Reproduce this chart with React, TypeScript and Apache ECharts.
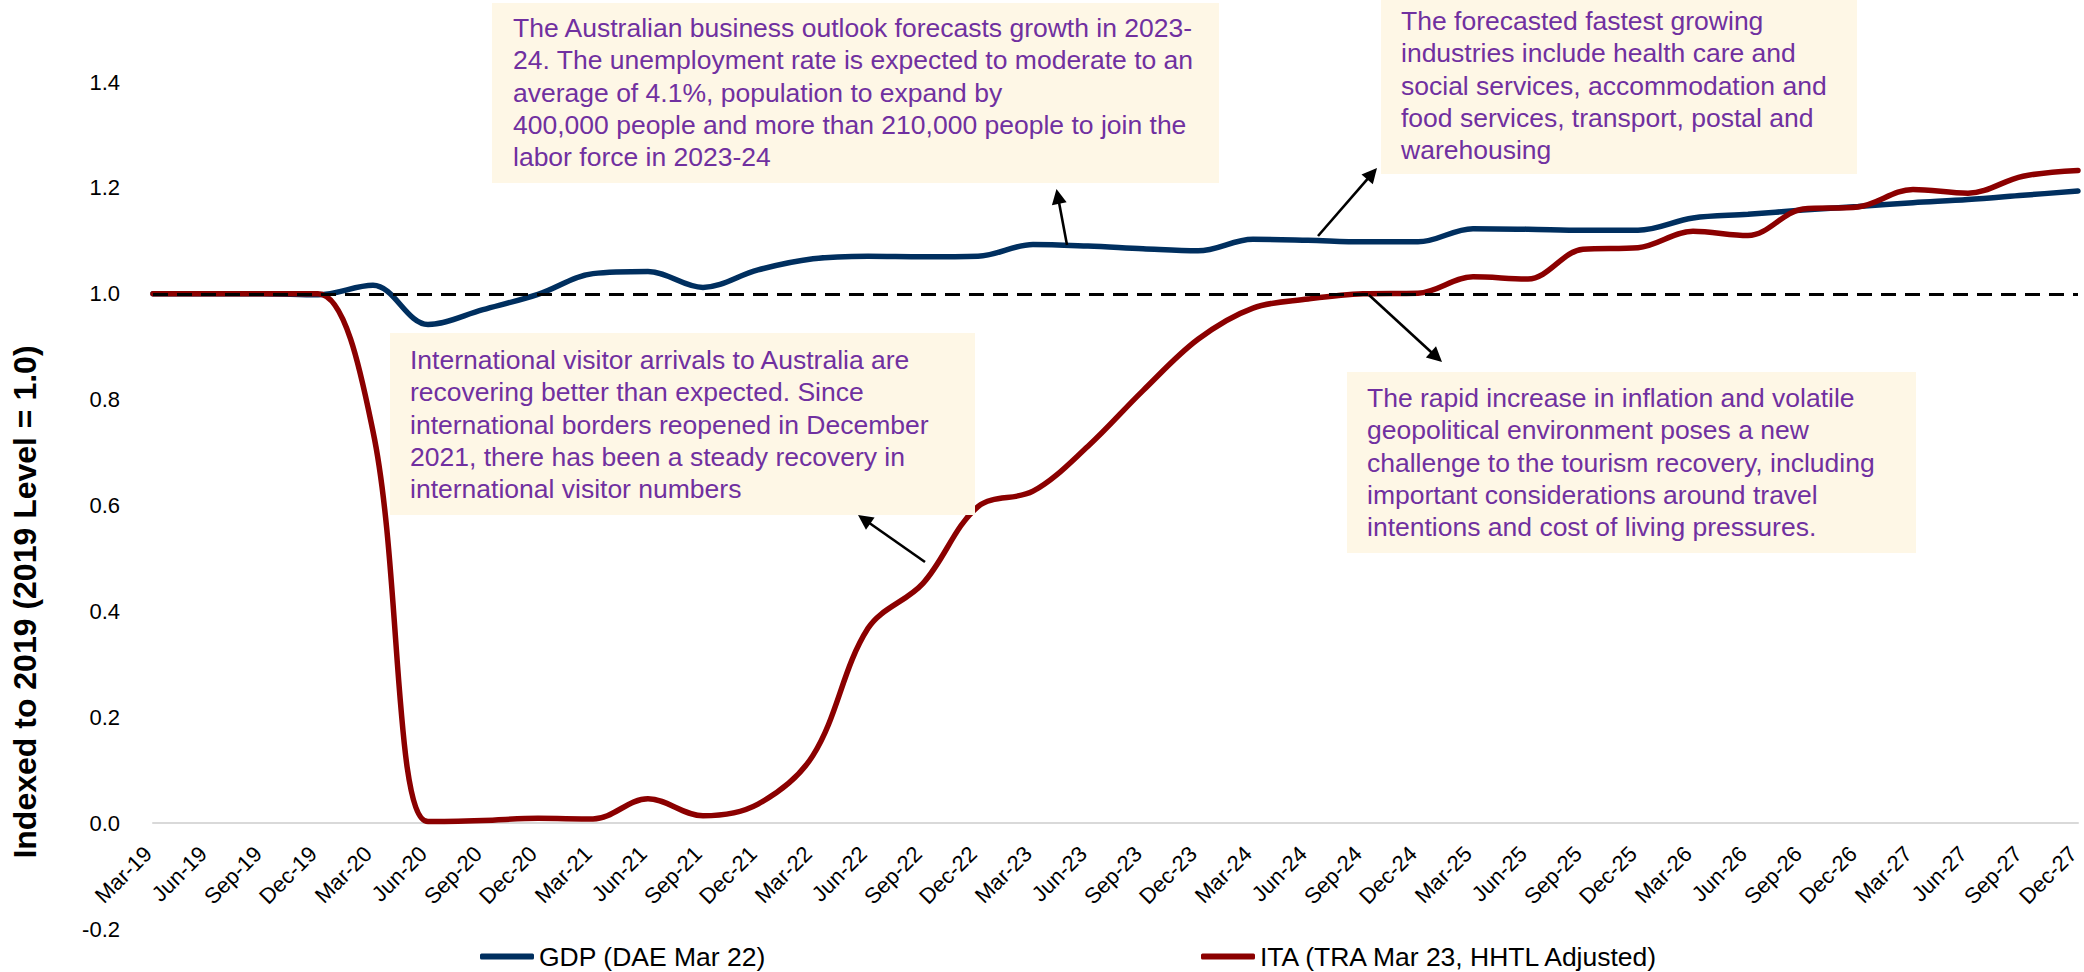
import React, { useEffect, useRef } from 'react';
import * as echarts from 'echarts';

const categories = [
  'Mar-19', 'Jun-19', 'Sep-19', 'Dec-19',
  'Mar-20', 'Jun-20', 'Sep-20', 'Dec-20',
  'Mar-21', 'Jun-21', 'Sep-21', 'Dec-21',
  'Mar-22', 'Jun-22', 'Sep-22', 'Dec-22',
  'Mar-23', 'Jun-23', 'Sep-23', 'Dec-23',
  'Mar-24', 'Jun-24', 'Sep-24', 'Dec-24',
  'Mar-25', 'Jun-25', 'Sep-25', 'Dec-25',
  'Mar-26', 'Jun-26', 'Sep-26', 'Dec-26',
  'Mar-27', 'Jun-27', 'Sep-27', 'Dec-27',
];

const gdpValues = [
  1.0, 1.0, 1.0, 0.998,
  1.016, 0.942, 0.97, 0.999,
  1.038, 1.042, 1.012, 1.045,
  1.066, 1.071, 1.07, 1.071,
  1.093, 1.09, 1.085, 1.081,
  1.103, 1.101, 1.098, 1.098,
  1.123, 1.122, 1.12, 1.12,
  1.143, 1.15, 1.158, 1.165,
  1.172, 1.178, 1.186, 1.194,
];

const itaValues = [
  1.0, 1.0, 1.0, 1.0,
  0.74, 0.003, 0.005, 0.009,
  0.008, 0.046, 0.014, 0.036,
  0.128, 0.368, 0.453, 0.598,
  0.627, 0.712, 0.817, 0.914,
  0.973, 0.99, 1.0, 1.001,
  1.032, 1.028, 1.084, 1.087,
  1.118, 1.11, 1.16, 1.164,
  1.197, 1.19, 1.222, 1.233,
];

const gdpName = 'GDP (DAE Mar 22)';
const itaName = 'ITA (TRA Mar 23, HHTL Adjusted)';
const baselineValue = 1.0;
const yMin = -0.2;
const yMax = 1.4;
const yStep = 0.2;
const yTitle = 'Indexed to 2019 (2019 Level = 1.0)';

const note1 = [
  'The Australian business outlook forecasts growth in 2023-',
  '24. The unemployment rate is expected to moderate to an',
  'average of 4.1%, population to expand by',
  '400,000 people and more than 210,000 people to join the',
  'labor force in 2023-24',
];
const note2 = [
  'The forecasted fastest growing',
  'industries include health care and',
  'social services, accommodation and',
  'food services, transport, postal and',
  'warehousing',
];
const note3 = [
  'International visitor arrivals to Australia are',
  'recovering better than expected. Since',
  'international borders reopened in December',
  '2021, there has been a steady recovery in',
  'international visitor numbers',
];
const note4 = [
  'The rapid increase in inflation and volatile',
  'geopolitical environment poses a new',
  'challenge to the tourism recovery, including',
  'important considerations around travel',
  'intentions and cost of living pressures.',
];

const FONT = '"Liberation Sans", Arial, Helvetica, sans-serif';
const NAVY = '#002F5F';
const RED = '#8B0000';
const PURPLE = '#7030A0';
const CREAM = '#FEF7E6';

const GRID_TOP = 82;
const GRID_BOTTOM = 43;
const CHART_H = 972;

function noteBox(lines: string[], rx: number, ry: number, rw: number, rh: number, tx: number, ty: number) {
  return [
    { type: 'rect', z: 50, shape: { x: rx, y: ry, width: rw, height: rh }, style: { fill: CREAM } },
    {
      type: 'text', z: 51, x: tx, y: ty,
      style: {
        text: lines.join('\n'), fill: PURPLE, fontSize: 26.5, fontFamily: FONT,
        lineHeight: 32.2, align: 'left', verticalAlign: 'top', textAlign: 'left', textVerticalAlign: 'top',
      },
    },
  ];
}

function arrow(x1: number, y1: number, x2: number, y2: number) {
  const head = 15;
  const w = 15;
  const dx = x2 - x1, dy = y2 - y1;
  const len = Math.hypot(dx, dy);
  const ux = dx / len, uy = dy / len;
  const bx = x2 - ux * head, by = y2 - uy * head;
  const px = -uy, py = ux;
  return [
    { type: 'line', z: 60, shape: { x1, y1, x2: bx + ux * 2, y2: by + uy * 2 }, style: { stroke: '#000', lineWidth: 2.6 } },
    {
      type: 'polygon', z: 60,
      shape: { points: [[x2, y2], [bx + (px * w) / 2, by + (py * w) / 2], [bx - (px * w) / 2, by - (py * w) / 2]] },
      style: { fill: '#000' },
    },
  ];
}

export default function App() {
  const ref = useRef<HTMLDivElement>(null);

  useEffect(() => {
    if (!ref.current) return;
    const chart = echarts.init(ref.current, null, { renderer: 'svg' });

    // distance from the grid bottom (yMin) to the zero line, so the category axis sits on 0
    const plotH = CHART_H - GRID_TOP - GRID_BOTTOM;
    const zeroOffset = -((0 - yMin) / (yMax - yMin)) * plotH;

    const option: any = {
      animation: false,
      backgroundColor: '#ffffff',
      textStyle: { fontFamily: FONT },
      grid: {
        left: 153, right: 6, top: GRID_TOP, bottom: GRID_BOTTOM,
        containLabel: false, outerBoundsMode: 'none',
      },
      legend: [
        {
          data: [gdpName], left: 475, top: 938, itemWidth: 54, itemHeight: 6, icon: 'roundRect',
          textStyle: { fontSize: 26.5, color: '#000', fontFamily: FONT },
        },
        {
          data: [itaName], left: 1196, top: 938, itemWidth: 54, itemHeight: 6, icon: 'roundRect',
          textStyle: { fontSize: 26.5, color: '#000', fontFamily: FONT },
        },
      ],
      xAxis: {
        type: 'category',
        data: categories,
        boundaryGap: false,
        position: 'bottom',
        offset: zeroOffset,
        axisLine: { show: true, onZero: false, lineStyle: { color: '#D9D9D9', width: 2 } },
        axisTick: { show: false },
        axisLabel: {
          interval: 0, rotate: 45, fontSize: 22, color: '#000', fontFamily: FONT,
          margin: 22, padding: [0, 7, 0, 0],
        },
        splitLine: { show: false },
      },
      yAxis: {
        type: 'value',
        min: yMin,
        max: yMax,
        interval: yStep,
        axisLine: { show: false },
        axisTick: { show: false },
        splitLine: { show: false },
        axisLabel: {
          fontSize: 22, color: '#000', fontFamily: FONT, margin: 33,
          formatter: (v: number) => v.toFixed(1),
        },
      },
      series: [
        {
          name: gdpName,
          type: 'line',
          data: gdpValues,
          smooth: 0.35,
          showSymbol: false,
          symbol: 'none',
          lineStyle: { color: NAVY, width: 5.5, cap: 'round' },
          itemStyle: { color: NAVY },
          z: 3,
        },
        {
          name: itaName,
          type: 'line',
          data: itaValues,
          smooth: 0.35,
          showSymbol: false,
          symbol: 'none',
          lineStyle: { color: RED, width: 5.5, cap: 'round' },
          itemStyle: { color: RED },
          z: 4,
          markLine: {
            silent: true,
            symbol: 'none',
            label: { show: false },
            lineStyle: { color: '#000', width: 3.2, type: [15, 9] },
            data: [{ yAxis: baselineValue }],
          },
        },
      ],
      graphic: [
        {
          type: 'text', x: 24.5, y: 602, rotation: Math.PI / 2,
          style: {
            text: yTitle, fill: '#000', fontSize: 32, fontWeight: 'bold', fontFamily: FONT,
            align: 'center', verticalAlign: 'middle', textAlign: 'center', textVerticalAlign: 'middle',
          },
        },
        ...noteBox(note1, 492, 3, 727, 180, 513, 12),
        ...noteBox(note2, 1381, 0, 476, 174, 1401, 5),
        ...noteBox(note3, 390, 333, 585, 182, 410, 344),
        ...noteBox(note4, 1347, 372, 569, 181, 1367, 382),
        ...arrow(1067, 245, 1056.5, 189),
        ...arrow(1318, 236, 1377, 168),
        ...arrow(1369, 295, 1442, 362),
        ...arrow(925, 562, 858, 515),
      ],
    };

    chart.setOption(option);
    return () => chart.dispose();
  }, []);

  return (
    <div
      ref={ref}
      style={{ position: 'fixed', left: 0, top: 0, width: 2084, height: 972, background: '#fff' }}
    />
  );
}
